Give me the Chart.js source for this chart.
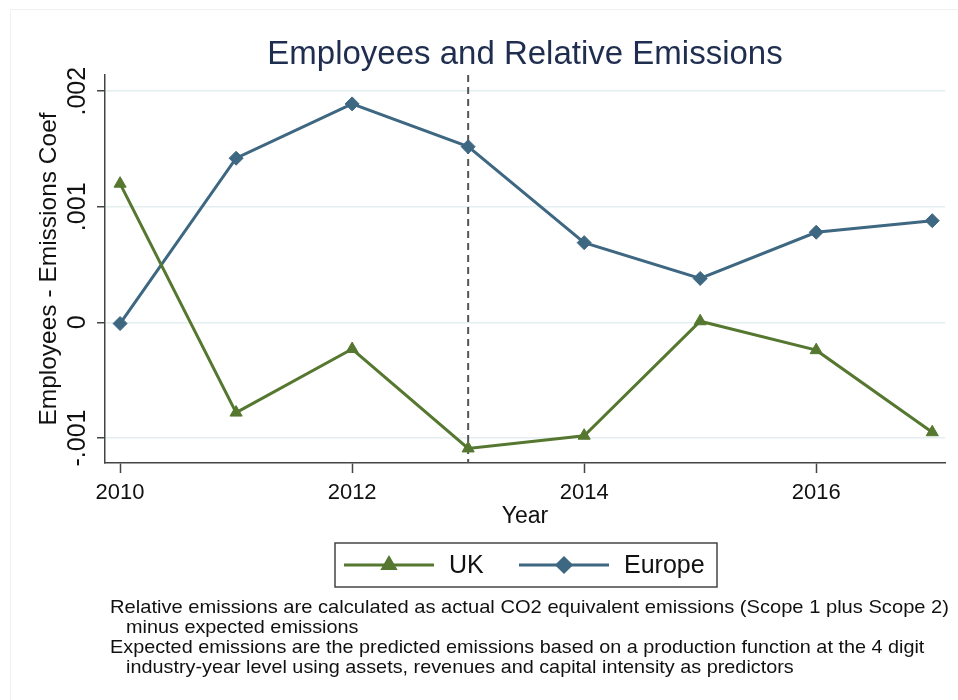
<!DOCTYPE html>
<html>
<head>
<meta charset="utf-8">
<script src="https://cdn.jsdelivr.net/npm/chart.js@4.4.1/dist/chart.umd.min.js"></script>
<style>
  body { margin: 0; background: #fff; }
  canvas { display: block; }
</style>
</head>
<body>
<canvas id="emissionsChart" width="958" height="700"></canvas>
<script>
const years = [2010, 2011, 2012, 2013, 2014, 2015, 2016, 2017];
const ukCoef = [0.00120, -0.00078, -0.00023, -0.00109, -0.00098, 0.00001, -0.00024, -0.00095];
const europeCoef = [-0.00001, 0.00142, 0.00189, 0.00152, 0.00069, 0.00038, 0.00078, 0.00088];

const xTicks = [2010, 2012, 2014, 2016];
const yTicks = [-0.001, 0, 0.001, 0.002];
const yTickLabels = ["-.001", "0", ".001", ".002"];
const cutoffYear = 2013;

const chartTitle = "Employees and Relative Emissions";
const noteLines = [
    "Relative emissions are calculated as actual CO2 equivalent emissions (Scope 1 plus Scope 2)",
    "minus expected emissions",
    "Expected emissions are the predicted emissions based on a production function at the 4 digit",
    "industry-year level using assets, revenues and capital intensity as predictors"
];
const noteIndent = [0, 16, 0, 16];

const FONT = "'Liberation Sans', Arial, sans-serif";
const ukColor = "#55772f";
const euColor = "#3e6782";

function toPoints(values)
{
    return years.map((yr, i) => ({ x: yr, y: values[i] }));
}

// title, dashed cutoff line, legend box and notes
const extrasPlugin = {
    id: "extras",
    beforeDatasetsDraw(chart) {
        const ctx = chart.ctx;
        const area = chart.chartArea;
        const x = chart.scales.x.getPixelForValue(cutoffYear);
        ctx.save();
        ctx.strokeStyle = "#555";
        ctx.lineWidth = 2;
        ctx.setLineDash([7, 5]);
        ctx.beginPath();
        ctx.moveTo(x, area.top);
        ctx.lineTo(x, area.bottom);
        ctx.stroke();
        ctx.restore();
    },
    afterDraw(chart) {
        const ctx = chart.ctx;
        const area = chart.chartArea;
        ctx.save();

        // faint outer frame
        ctx.strokeStyle = "#f0f0f0";
        ctx.lineWidth = 1;
        ctx.strokeRect(10.5, 9.5, 960, 700);

        // title
        ctx.fillStyle = "#1f2d4f";
        ctx.font = "33px " + FONT;
        ctx.textAlign = "center";
        ctx.textBaseline = "middle";
        ctx.fillText(chartTitle, (area.left + area.right) / 2, 55);

        // legend
        const box = { left: 335, top: 543, width: 382, height: 44 };
        ctx.strokeStyle = "#444";
        ctx.lineWidth = 1.5;
        ctx.strokeRect(box.left, box.top, box.width, box.height);
        const midY = box.top + box.height / 2;
        const items = [
            { label: "UK", ds: 0, x0: 344 },
            { label: "Europe", ds: 1, x0: 519 }
        ];
        items.forEach(item => {
            const ds = chart.data.datasets[item.ds];
            ctx.strokeStyle = ds.borderColor;
            ctx.lineWidth = 3;
            ctx.beginPath();
            ctx.moveTo(item.x0, midY);
            ctx.lineTo(item.x0 + 90, midY);
            ctx.stroke();
            Chart.helpers.drawPoint(ctx, {
                pointStyle: ds.pointStyle,
                radius: ds.pointRadius,
                borderWidth: 1
            }, item.x0 + 45, midY);
            ctx.fillStyle = ds.borderColor;
            ctx.fill();
            ctx.fillStyle = "#111";
            ctx.font = "25px " + FONT;
            ctx.textAlign = "left";
            ctx.textBaseline = "middle";
            ctx.fillText(item.label, item.x0 + 105, midY + 1);
        });

        // notes, slightly condensed
        ctx.font = "19px " + FONT;
        ctx.fillStyle = "#111";
        ctx.textAlign = "left";
        ctx.textBaseline = "middle";
        const k = 839 / ctx.measureText(noteLines[0]).width;
        noteLines.forEach((line, i) => {
            ctx.save();
            ctx.translate(110 + noteIndent[i], 608 + i * 20);
            ctx.scale(k * 0.985, 1);
            if (i === 0) ctx.scale(1 / 0.985, 1);
            ctx.fillText(line, 0, 0);
            ctx.restore();
        });
        ctx.restore();
    }
};

const ctx = document.getElementById("emissionsChart").getContext("2d");

new Chart(ctx, {
    type: "line",
    data: {
        datasets: [
            {
                label: "UK",
                data: toPoints(ukCoef),
                borderColor: ukColor,
                backgroundColor: ukColor,
                borderWidth: 3,
                pointStyle: "triangle",
                pointRadius: 7,
                pointBorderWidth: 1,
                tension: 0
            },
            {
                label: "Europe",
                data: toPoints(europeCoef),
                borderColor: euColor,
                backgroundColor: euColor,
                borderWidth: 3,
                pointStyle: "rectRot",
                pointRadius: 7,
                pointBorderWidth: 1,
                tension: 0
            }
        ]
    },
    options: {
        responsive: false,
        animation: false,
        layout: { padding: { top: 75, right: 13, bottom: 167, left: 0 } },
        plugins: {
            legend: { display: false },
            title: { display: false },
            tooltip: { enabled: false }
        },
        scales: {
            x: {
                type: "linear",
                min: 2009.87,
                max: 2017.11,
                afterBuildTicks: scale => { scale.ticks = xTicks.map(v => ({ value: v })); },
                afterFit: scale => { scale.height = 70; },
                grid: { drawOnChartArea: false, tickLength: 10, tickColor: "#444", tickWidth: 1.5 },
                border: { color: "#444", width: 1.5 },
                ticks: {
                    color: "#111",
                    padding: 7,
                    maxRotation: 0,
                    font: { size: 22, family: FONT },
                    callback: v => String(v)
                },
                title: {
                    display: true,
                    text: "Year",
                    color: "#111",
                    font: { size: 23, family: FONT },
                    padding: { top: 0, bottom: 3 }
                }
            },
            y: {
                min: -0.001216,
                max: 0.00214,
                afterBuildTicks: scale => { scale.ticks = yTicks.map(v => ({ value: v })); },
                afterFit: scale => { scale.width = 105; },
                grid: { color: "#e4edf0", lineWidth: 1.5, tickLength: 8, tickColor: "#444", tickWidth: 1.5 },
                border: { color: "#444", width: 1.5 },
                ticks: {
                    color: "#111",
                    padding: -10,
                    minRotation: 90,
                    maxRotation: 90,
                    crossAlign: "center",
                    font: { size: 25, family: FONT },
                    callback: v => yTickLabels[yTicks.indexOf(v)]
                },
                title: {
                    display: true,
                    text: "Employees - Emissions Coef",
                    color: "#111",
                    font: { size: 24.5, family: FONT },
                    padding: { top: 35, bottom: 0 }
                }
            }
        }
    },
    plugins: [extrasPlugin]
});
</script>
</body>
</html>
